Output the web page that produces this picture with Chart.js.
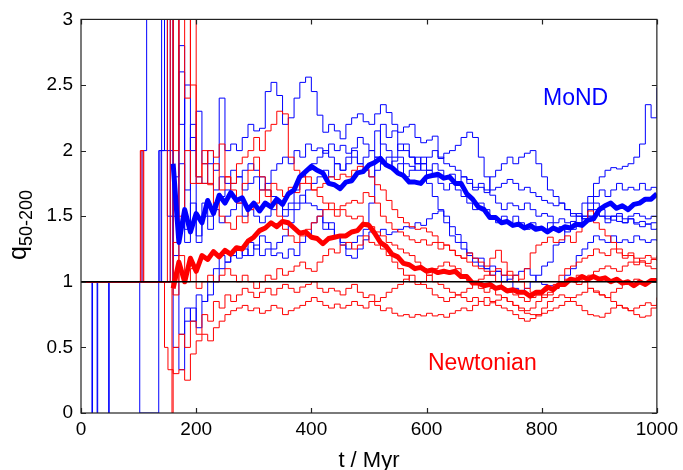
<!DOCTYPE html>
<html>
<head>
<meta charset="utf-8">
<script src="https://cdn.jsdelivr.net/npm/chart.js@4.4.1/dist/chart.umd.min.js"></script>
<style>
html,body{margin:0;padding:0;background:#fff;}
canvas{display:block;}
</style>
</head>
<body>
<canvas id="c" width="683" height="470"></canvas>
<script>
// ---- data ----
const T = [160,170,180,190,200,210,220,230,240,250,260,270,280,290,300,310,320,330,340,350,360,370,380,390,400,410,420,430,440,450,460,470,480,490,500,510,520,530,540,550,560,570,580,590,600,610,620,630,640,650,660,670,680,690,700,710,720,730,740,750,760,770,780,790,800,810,820,830,840,850,860,870,880,890,900,910,920,930,940,950,960,970,980,990,1000];

const xTickValues = [0,200,400,600,800,1000];
const yTickValues = [0,0.5,1,1.5,2,2.5,3];
const yTickLabels = ['0','0.5','1','1.5','2','2.5','3'];
const xTickLabels = ['0','200','400','600','800','1000'];

// early (t < 160) step segments: [t, value]
const B1early = [[0,1],[106,2],[114,3]];
const B2early = [[0,1],[19,0],[20,1],[28,0],[29,1],[48,0],[49,1]];
const B3early = [[0,1],[102,0],[135,2]];
const B4early = [[0,1],[140,3],[150,1.5]];
const B5early = [[0,1],[137,2],[145,3]];
const B6early = [[0,1],[155,3]];
const R1early = [[0,1],[103,2],[108,1],[150,3]];
const R2early = [[0,1],[104,2],[109,1],[155,3]];
const R3early = [[0,1]];
const R4early = [[0,1],[145,0.5],[151,0.33]];
const R5early = [[0,1],[158,0]];
const R6early = [[0,1]];

// MoND runs (thin, blue)
const B1 = [3.05,2.2,2.5,2.0,2.3,1.9,2.0,1.85,2.4,2.0,2.05,2.0,2.1,2.2,2.15,2.17,2.45,2.52,2.42,2.2,2.25,2.4,2.52,2.56,2.45,2.27,2.14,2.2,2.15,2.09,2.2,2.25,2.28,2.22,2.2,2.28,2.35,2.29,2.2,2.14,2.18,2.2,2.1,2.06,2.08,2.11,1.94,1.98,2.0,2.04,2.1,2.14,2.1,1.95,1.8,1.66,1.6,1.55,1.6,1.58,1.55,1.6,1.55,1.5,1.52,1.5,1.45,1.48,1.45,1.42,1.45,1.5,1.55,1.6,1.55,1.5,1.47,1.5,1.45,1.48,1.44,1.42,1.44,1.4,1.41];
const B2 = [1.8,2.6,1.7,2.1,1.8,1.75,1.9,1.7,1.8,1.75,1.85,1.8,1.7,1.75,1.8,1.7,1.75,1.85,1.9,1.95,1.9,2.0,1.95,2.05,2.0,2.02,1.98,2.05,2.0,2.04,1.98,2.02,2.1,2.05,2.0,2.15,2.05,2.0,1.95,2.05,2.0,1.95,1.9,1.95,1.85,1.9,1.85,1.8,1.82,1.75,1.8,1.78,1.72,1.75,1.7,1.8,1.85,1.9,1.95,1.9,1.95,1.98,2.0,1.9,1.8,1.7,1.65,1.6,1.55,1.5,1.52,1.48,1.5,1.55,1.5,1.45,1.5,1.52,1.48,1.5,1.52,1.5,1.48,1.5,1.49];
const B3 = [1.0,0.6,0.8,0.7,0.9,0.85,1.0,1.1,1.2,1.15,1.2,1.18,1.25,1.2,1.28,1.2,1.25,1.2,1.22,1.18,1.25,1.2,1.3,1.35,1.45,1.5,1.4,1.45,1.35,1.3,1.25,1.3,1.35,1.4,1.6,1.95,2.2,2.1,2.15,2.0,2.05,1.95,1.9,1.85,1.75,1.65,1.55,1.45,1.35,1.3,1.25,1.2,1.15,1.18,1.1,1.12,1.08,1.05,1.0,0.95,0.93,0.95,1.0,1.05,1.12,1.15,1.28,1.3,1.4,1.46,1.5,1.6,1.65,1.75,1.8,1.85,1.87,1.86,1.88,1.9,1.95,2.05,2.35,2.25,2.48];
const B4 = [1.5,2.8,1.4,2.2,1.3,1.6,1.5,1.55,1.45,1.5,1.55,1.6,1.5,1.55,1.5,1.45,1.5,1.55,1.6,1.5,1.55,1.6,1.66,1.6,1.58,1.55,1.45,1.4,1.35,1.28,1.2,1.18,1.25,1.32,1.38,1.35,1.4,1.36,1.38,1.4,1.42,1.41,1.45,1.43,1.48,1.52,1.54,1.5,1.42,1.36,1.3,1.22,1.18,1.12,1.1,1.05,1.08,1.0,1.02,1.05,1.08,1.1,1.05,1.0,0.98,0.97,0.95,1.0,1.05,1.1,1.2,1.25,1.3,1.35,1.32,1.3,1.35,1.3,1.32,1.3,1.35,1.32,1.3,1.32,1.31];
const B5 = [1.2,1.9,1.3,1.6,1.35,1.5,1.4,1.6,1.65,1.7,1.75,1.8,1.85,1.9,1.85,1.8,1.7,1.65,1.6,1.55,1.6,1.7,1.8,1.85,1.9,1.95,2.0,1.95,1.9,1.85,1.9,1.95,1.9,1.95,2.0,1.95,1.9,1.95,1.85,1.9,1.8,1.85,1.95,1.9,1.85,1.8,1.75,1.7,1.75,1.7,1.65,1.6,1.55,1.6,1.55,1.5,1.45,1.5,1.45,1.5,1.45,1.4,1.45,1.42,1.4,1.45,1.4,1.42,1.38,1.4,1.45,1.5,1.6,1.65,1.7,1.65,1.7,1.75,1.7,1.72,1.7,1.75,1.7,1.72,1.7];
const B6 = [0.5,0.33,0.7,0.8,0.65,0.85,0.9,1.0,1.1,1.15,1.2,1.25,1.2,1.3,1.25,1.35,1.3,1.25,1.3,1.35,1.45,1.55,1.6,1.7,1.75,1.8,1.85,1.8,1.9,1.85,1.95,2.0,1.9,1.85,1.8,1.85,1.9,1.88,1.92,1.95,1.9,1.88,1.85,1.9,1.95,2.0,1.95,1.9,1.88,1.85,1.8,1.75,1.7,1.72,1.68,1.7,1.72,1.75,1.78,1.75,1.7,1.72,1.68,1.65,1.62,1.6,1.58,1.6,1.55,1.52,1.5,1.48,1.5,1.52,1.5,1.48,1.5,1.46,1.45,1.48,1.45,1.46,1.44,1.45,1.45];

// Newtonian runs (thin, red)
const R1 = [2.0,3.05,2.4,3.05,1.8,2.0,1.75,1.9,1.7,1.8,1.75,1.9,1.95,2.0,2.1,2.0,2.15,2.2,2.3,2.28,1.95,1.85,1.8,1.75,1.7,1.72,1.75,1.8,1.78,1.82,1.8,1.85,1.88,1.86,1.8,1.74,1.7,1.62,1.55,1.49,1.45,1.42,1.4,1.41,1.38,1.35,1.3,1.28,1.24,1.2,1.18,1.15,1.12,1.1,1.08,1.05,1.0,0.95,0.92,0.9,0.88,0.85,0.88,0.9,0.93,0.95,0.98,1.0,1.02,1.0,0.98,1.0,1.05,1.08,1.1,1.12,1.1,1.08,1.12,1.15,1.13,1.16,1.14,1.17,1.16];
const R2 = [1.0,1.5,2.0,1.75,1.75,1.9,2.0,1.95,2.05,1.8,1.7,1.6,1.75,1.85,1.95,1.8,1.7,1.6,1.5,1.4,1.35,1.3,1.35,1.4,1.45,1.5,1.55,1.6,1.55,1.58,1.6,1.62,1.6,1.68,1.65,1.6,1.5,1.45,1.4,1.38,1.35,1.32,1.3,1.32,1.28,1.3,1.25,1.28,1.24,1.2,1.18,1.22,1.18,1.15,1.12,1.18,1.24,1.15,1.05,1.0,1.02,1.1,1.22,1.28,1.3,1.34,1.3,1.32,1.35,1.3,1.38,1.45,1.54,1.45,1.4,1.35,1.3,1.25,1.2,1.22,1.18,1.15,1.12,1.1,1.1];
const R3 = [0.9,1.2,1.0,1.1,0.95,1.0,1.05,1.0,1.05,1.1,1.05,1.0,1.05,1.0,0.95,1.0,1.05,1.02,1.1,1.05,1.08,1.12,1.15,1.1,1.08,1.15,1.2,1.25,1.22,1.28,1.3,1.25,1.28,1.35,1.3,1.28,1.25,1.2,1.15,1.1,1.05,1.0,0.98,1.0,1.05,1.1,1.12,1.15,1.12,1.1,1.05,1.0,0.98,0.95,0.92,0.95,0.9,0.88,0.85,0.82,0.8,0.78,0.8,0.85,0.9,0.92,0.95,0.98,1.0,1.02,1.05,1.0,0.95,0.92,0.9,0.88,0.92,0.95,0.98,1.0,1.02,1.0,1.0,1.02,1.0];
const R4 = [0.3,0.33,0.25,0.45,0.55,0.6,0.55,0.65,0.7,0.75,0.78,0.8,0.82,0.78,0.8,0.76,0.78,0.82,0.8,0.75,0.78,0.8,0.82,0.85,0.88,0.85,0.82,0.8,0.83,0.8,0.82,0.85,0.82,0.8,0.85,0.82,0.78,0.8,0.76,0.74,0.75,0.73,0.75,0.74,0.76,0.74,0.75,0.73,0.76,0.78,0.8,0.78,0.82,0.85,0.88,0.85,0.82,0.8,0.78,0.75,0.72,0.7,0.72,0.75,0.8,0.85,0.88,0.9,0.88,0.85,0.82,0.78,0.75,0.74,0.73,0.76,0.8,0.82,0.8,0.78,0.75,0.73,0.74,0.8,0.88];
const R5 = [0.5,0.6,0.5,0.7,0.6,0.75,0.7,0.85,0.8,0.9,0.85,0.9,0.95,0.92,0.88,0.92,0.95,0.9,0.95,0.98,0.95,0.92,0.96,0.98,1.0,0.95,0.92,0.95,0.93,0.9,0.95,0.98,0.92,0.88,0.9,0.85,0.88,0.92,0.95,0.98,1.02,1.05,1.0,0.98,0.95,0.9,0.88,0.85,0.88,0.9,0.92,0.95,1.0,1.02,1.05,1.08,1.1,1.05,1.08,1.05,1.0,0.95,0.92,0.9,0.88,0.9,0.95,1.05,1.1,1.12,1.15,1.18,1.2,1.25,1.22,1.2,1.25,1.22,1.18,1.2,1.15,1.18,1.2,1.18,1.2];
const R6 = [1.3,3.05,3.05,2.5,1.75,1.75,1.74,1.6,1.5,1.45,1.4,1.5,1.45,1.55,1.6,1.7,1.65,1.75,1.7,1.65,1.72,1.68,1.75,1.8,1.7,1.65,1.6,1.55,1.5,1.55,1.5,1.48,1.5,1.45,1.42,1.38,1.35,1.3,1.28,1.25,1.22,1.2,1.15,1.1,1.05,1.0,0.98,0.95,0.92,0.9,0.88,0.85,0.88,0.85,0.82,0.84,0.86,0.88,0.85,0.82,0.78,0.76,0.75,0.74,0.76,0.78,0.8,0.82,0.85,0.88,0.9,0.92,0.95,0.93,0.9,0.88,0.85,0.82,0.8,0.78,0.8,0.82,0.84,0.82,0.83];

// ensemble means (thick)
const MoNDMean = [1.9,1.3,1.55,1.38,1.52,1.45,1.62,1.52,1.66,1.6,1.68,1.62,1.64,1.55,1.6,1.54,1.6,1.57,1.63,1.59,1.67,1.7,1.8,1.84,1.88,1.85,1.83,1.75,1.74,1.71,1.76,1.77,1.83,1.84,1.89,1.91,1.94,1.89,1.87,1.83,1.81,1.76,1.76,1.75,1.8,1.81,1.82,1.79,1.8,1.75,1.75,1.67,1.63,1.57,1.55,1.49,1.49,1.45,1.46,1.43,1.44,1.41,1.43,1.4,1.41,1.38,1.41,1.39,1.42,1.41,1.44,1.43,1.47,1.48,1.55,1.58,1.6,1.56,1.58,1.55,1.59,1.6,1.63,1.63,1.67];
const NewtMean = [0.95,1.15,1.0,1.18,1.08,1.2,1.17,1.23,1.19,1.24,1.21,1.26,1.25,1.31,1.34,1.39,1.41,1.45,1.42,1.46,1.45,1.41,1.37,1.38,1.34,1.33,1.29,1.33,1.34,1.35,1.35,1.38,1.39,1.44,1.43,1.37,1.3,1.27,1.21,1.19,1.14,1.13,1.1,1.11,1.08,1.09,1.07,1.08,1.07,1.08,1.04,1.04,0.99,0.99,0.97,0.98,0.95,0.96,0.93,0.94,0.92,0.92,0.89,0.92,0.92,0.96,0.94,0.98,0.98,1.02,1.01,1.04,1.02,1.04,1.02,1.03,1.0,1.02,0.99,1.0,0.97,1.0,0.98,1.01,1.01];

const refLine = [[0,1],[1000,1]];

// ---- build ----
const BLUE = '#0000ff', RED = '#ff0000';
function pts(prefix, vals){
  const out = prefix.map(p => ({x:p[0], y:p[1]}));
  vals.forEach((v,i) => out.push({x:T[i], y:v}));
  return out;
}
function thin(data, color){
  return {data, borderColor:color, borderWidth:1, pointRadius:0, stepped:true, order:3, fill:false};
}
function thick(data, color){
  return {data, borderColor:color, borderWidth:5, pointRadius:0, order:1, fill:false, borderJoinStyle:'round'};
}
const datasets = [
  thin(pts(R1early,R1),RED), thin(pts(R2early,R2),RED), thin(pts(R3early,R3),RED),
  thin(pts(R4early,R4),RED), thin(pts(R5early,R5),RED), thin(pts(R6early,R6),RED),
  thin(pts(B1early,B1),BLUE), thin(pts(B2early,B2),BLUE), thin(pts(B3early,B3),BLUE),
  thin(pts(B4early,B4),BLUE), thin(pts(B5early,B5),BLUE), thin(pts(B6early,B6),BLUE),
  thick(pts([],NewtMean),RED), thick(pts([],MoNDMean),BLUE),
  {data: refLine.map(p=>({x:p[0],y:p[1]})), borderColor:'#000', borderWidth:1.4, pointRadius:0, order:0}
];

const FONT = '"Liberation Sans", Arial, Helvetica, sans-serif';

const framePlugin = {
  id:'frame',
  afterDraw(chart){
    const {ctx, chartArea:a, scales:{x, y}} = chart;
    ctx.save();
    ctx.strokeStyle = '#222';
    ctx.lineWidth = 1.2;
    ctx.strokeRect(a.left, a.top, a.right - a.left, a.bottom - a.top);
    ctx.beginPath();
    const L = 5;
    xTickValues.forEach(v => {
      const px = Math.round(x.getPixelForValue(v)) + 0.5;
      ctx.moveTo(px, a.bottom); ctx.lineTo(px, a.bottom - L);
      ctx.moveTo(px, a.top); ctx.lineTo(px, a.top + L);
    });
    yTickValues.forEach(v => {
      const py = Math.round(y.getPixelForValue(v)) + 0.5;
      ctx.moveTo(a.left, py); ctx.lineTo(a.left + L, py);
      ctx.moveTo(a.right, py); ctx.lineTo(a.right - L, py);
    });
    ctx.stroke();

    // axis titles
    ctx.fillStyle = '#000';
    ctx.font = '22px ' + FONT;
    ctx.textAlign = 'center';
    ctx.textBaseline = 'alphabetic';
    ctx.fillText('t / Myr', (a.left + a.right)/2, 467);

    ctx.save();
    ctx.rotate(-Math.PI/2);
    ctx.textAlign = 'left';
    ctx.font = '25px ' + FONT;
    ctx.fillText('q', -260, 26);
    ctx.font = '18px ' + FONT;
    ctx.fillText('50-200', -246, 32);
    ctx.restore();

    // annotations
    ctx.font = '23px ' + FONT;
    ctx.textAlign = 'left';
    ctx.fillStyle = BLUE;
    ctx.fillText('MoND', 543, 105);
    ctx.fillStyle = RED;
    ctx.fillText('Newtonian', 428, 370);
    ctx.restore();
  }
};

new Chart(document.getElementById('c'), {
  type:'line',
  data:{datasets},
  options:{
    responsive:false,
    animation:false,
    devicePixelRatio:1,
    layout:{padding:{left:0, right:25, top:17, bottom:0}},
    plugins:{legend:{display:false}, tooltip:{enabled:false}},
    scales:{
      x:{
        type:'linear', min:0, max:1000,
        afterFit(s){ s.height = 57; },
        afterBuildTicks(s){ s.ticks = xTickValues.map(v => ({value:v})); },
        grid:{display:false, drawTicks:false},
        border:{display:false},
        ticks:{font:{family:FONT, size:19}, color:'#000', padding:5, maxRotation:0,
          callback:(v) => { const i = xTickValues.indexOf(v); return i >= 0 ? xTickLabels[i] : ''; }}
      },
      y:{
        type:'linear', min:0, max:3,
        afterFit(s){ s.width = 81; },
        afterBuildTicks(s){ s.ticks = yTickValues.map(v => ({value:v})); },
        grid:{display:false, drawTicks:false},
        border:{display:false},
        ticks:{font:{family:FONT, size:19}, color:'#000', padding:8,
          callback:(v) => { const i = yTickValues.indexOf(v); return i >= 0 ? yTickLabels[i] : ''; }}
      }
    }
  },
  plugins:[framePlugin]
});
</script>
</body>
</html>
